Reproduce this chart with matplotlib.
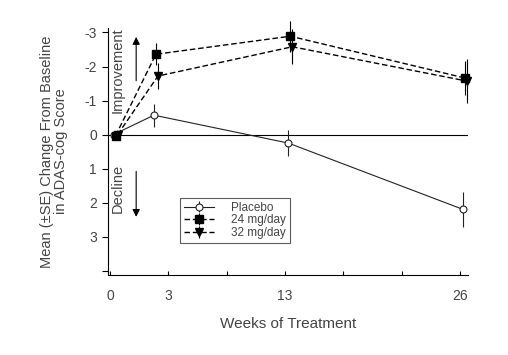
import matplotlib
matplotlib.use('Agg')
import matplotlib.pyplot as plt
import numpy as np

plt.rcParams['font.family'] = ['Liberation Sans', 'DejaVu Sans']

# Data
weeks = [0, 3, 13, 26]
placebo = [0.0, -0.57, 0.25, 2.2]
placebo_se = [0.0, 0.34, 0.38, 0.51]
mg24 = [0.03, -2.36, -2.89, -1.66]
mg24_se = [0.0, 0.32, 0.45, 0.5]
mg32 = [0.0, -1.72, -2.58, -1.57]
mg32_se = [0.0, 0.37, 0.52, 0.65]

ytick_vals = [-3, -2, -1, 0, 1, 2, 3, 4]
ytick_labels = ['-3', '-2', '-1', '0', '1', '2', '3', '']
xtick_vals = np.linspace(0, 26, 7)
xtick_labels = ['0', '3', '', '13', '', '', '26']

txt = '#444444'

fig = plt.figure(figsize=(5.08, 3.55), dpi=100)
ax = fig.add_axes([0.213, 0.225, 0.708, 0.696])

x = np.array(weeks, dtype=float)
ax.axhline(0, color='black', lw=0.8, zorder=1)

# small horizontal dodge so the error bars don't sit on top of each other
ax.errorbar(x + 0.25, placebo, yerr=placebo_se, color='#222222', lw=0.8,
            marker='o', ms=5, mfc='white', mec='#222222', mew=0.8,
            elinewidth=0.8, capsize=0, label='Placebo', zorder=3, clip_on=False)
ax.errorbar(x + 0.4, mg24, yerr=mg24_se, color='black', lw=1.0, ls=(0, (4, 2)),
            marker='s', ms=5.5, mfc='black', mec='black',
            elinewidth=0.8, capsize=0, label='24 mg/day', zorder=3, clip_on=False)
ax.errorbar(x + 0.55, mg32, yerr=mg32_se, color='black', lw=1.0, ls=(0, (4, 2)),
            marker='v', ms=6, mfc='black', mec='black',
            elinewidth=0.8, capsize=0, label='32 mg/day', zorder=3, clip_on=False)

ax.set_xlim(-0.15, 26.6)
ax.set_ylim(4.13, -3.13)
ax.set_yticks(ytick_vals)
ax.set_yticklabels(ytick_labels)
ax.set_xticks(xtick_vals)
ax.set_xticklabels(xtick_labels)
ax.spines['top'].set_visible(False)
ax.spines['right'].set_visible(False)
ax.tick_params(axis='y', direction='out', length=4, labelsize=10, colors=txt, pad=4)
ax.tick_params(axis='x', direction='in', length=3, labelsize=10, colors=txt, pad=10)
ax.tick_params(axis='both', color='black')

# Improvement / Decline annotations
ax.text(0.55, -1.9, 'Improvement', rotation=90, ha='center', va='center',
        fontsize=10.5, color=txt)
ax.annotate('', xy=(1.93, -2.95), xytext=(1.93, -1.5),
            arrowprops=dict(arrowstyle='-|>', color='black', lw=0.8,
                            mutation_scale=11))
ax.text(0.55, 1.57, 'Decline', rotation=90, ha='center', va='center',
        fontsize=10.5, color=txt)
ax.annotate('', xy=(1.93, 2.5), xytext=(1.93, 1.0),
            arrowprops=dict(arrowstyle='-|>', color='black', lw=0.8,
                            mutation_scale=11))

leg = ax.legend(loc='lower left', bbox_to_anchor=(0.2, 0.13), fontsize=8.5,
                frameon=True, fancybox=False, edgecolor='#333333',
                handlelength=2.5, borderpad=0.35, labelspacing=0.05,
                handletextpad=1.5, borderaxespad=0)
for t in leg.get_texts():
    t.set_color(txt)
leg.get_frame().set_linewidth(0.8)

ax.set_xlabel('Weeks of Treatment', fontsize=11, color=txt, labelpad=10)
ax.set_ylabel('Mean (±SE) Change From Baseline\nin ADAS-cog Score',
              fontsize=10.5, color=txt, labelpad=12, linespacing=1.0)

fig.savefig('out.png', dpi=100)
